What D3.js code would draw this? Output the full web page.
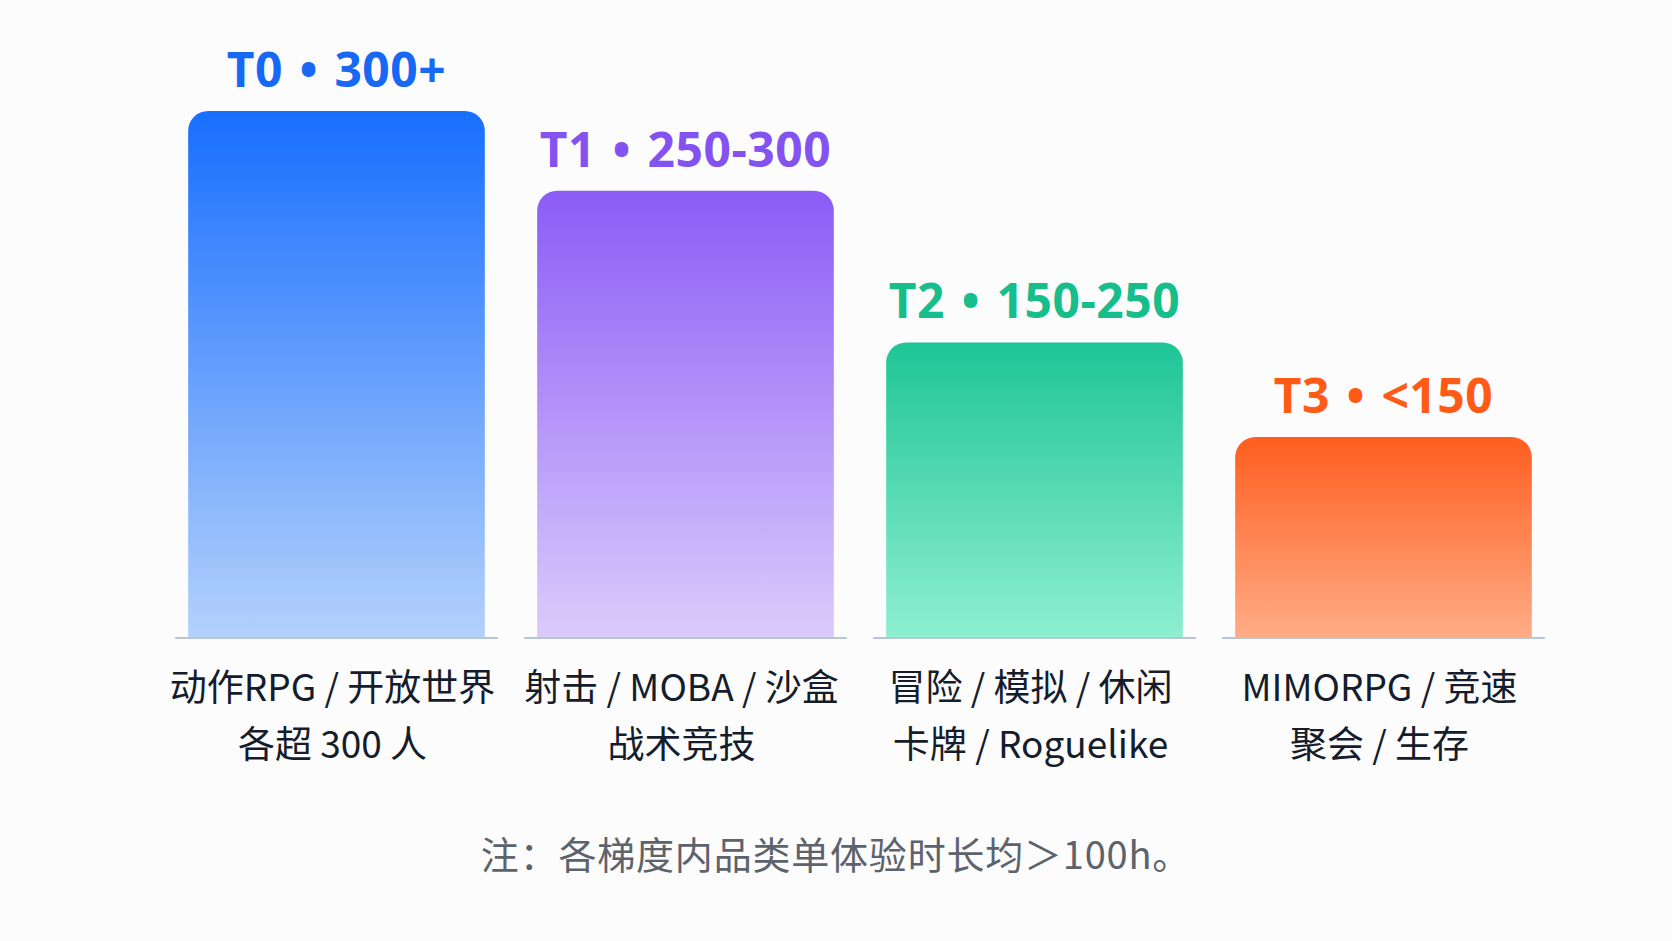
<!DOCTYPE html>
<html>
<head>
<meta charset="utf-8">
<script src="https://cdn.jsdelivr.net/npm/d3@7"></script>
<style>
  html, body { margin: 0; padding: 0; background: #fcfcfd; }
  svg { display: block; }
</style>
</head>
<body>
<div id="chart"></div>
<script>
// ---- data ----
const tiers = ["T0", "T1", "T2", "T3"];
const ranges = ["300+", "250-300", "150-250", "<150"];
const values = [350, 297, 196, 133];
const labelLine1 = ["动作RPG / 开放世界", "射击 / MOBA / 沙盒", "冒险 / 模拟 / 休闲", "MIMORPG / 竞速"];
const labelLine2 = ["各超 300 人", "战术竞技", "卡牌 / Roguelike", "聚会 / 生存"];
const note = "注：各梯度内品类单体验时长均＞100h。";

// ---- styles ----
const topColors = ["#176eff", "#8b5cf6", "#1ec596", "#ff5e1f"];
const bottomColors = ["#b4d1fb", "#dbcbfb", "#8eefcf", "#ffac86"];
const textColors = ["#1769f5", "#8552f2", "#17bd8a", "#ff5b17"];

const W = 1672, H = 941;
const svg = d3.select("#chart").append("svg").attr("width", W).attr("height", H);
svg.append("rect").attr("width", W).attr("height", H).attr("fill", "#fcfcfd");

const x = d3.scaleBand().domain(tiers).range([162, 1558]).paddingInner(0.15).paddingOuter(0.075);
const y = d3.scaleLinear().domain([0, 350]).range([637, 111]);

const defs = svg.append("defs");
tiers.forEach((t, i) => {
  const g = defs.append("linearGradient").attr("id", "g" + i)
    .attr("x1", 0).attr("y1", 0).attr("x2", 0).attr("y2", 1);
  g.append("stop").attr("offset", "0%").attr("stop-color", topColors[i]);
  g.append("stop").attr("offset", "100%").attr("stop-color", bottomColors[i]);
});

const r = 20;
function topRounded(x0, y0, w, h) {
  const p = d3.path();
  p.moveTo(x0, y0 + h);
  p.lineTo(x0, y0 + r);
  p.arcTo(x0, y0, x0 + r, y0, r);
  p.lineTo(x0 + w - r, y0);
  p.arcTo(x0 + w, y0, x0 + w, y0 + r, r);
  p.lineTo(x0 + w, y0 + h);
  p.closePath();
  return p.toString();
}

const bw = x.bandwidth();
const data = tiers.map((t, i) => ({ t, i, v: values[i] }));

svg.selectAll("path.bar").data(data).join("path")
  .attr("class", "bar")
  .attr("d", d => topRounded(x(d.t), y(d.v), bw, y(0) - y(d.v)))
  .attr("fill", d => `url(#g${d.i})`);

// baseline segments
svg.selectAll("line.base").data(data).join("line")
  .attr("class", "base")
  .attr("x1", d => x(d.t) - 13).attr("x2", d => x(d.t) + bw + 13)
  .attr("y1", y(0) + 1).attr("y2", y(0) + 1)
  .attr("stroke", "#b9c5d4").attr("stroke-width", 2);

// tier labels
svg.selectAll("text.tier").data(data).join("text")
  .attr("class", "tier")
  .attr("x", d => x(d.t) + bw / 2)
  .attr("y", d => y(d.v) - 24)
  .attr("text-anchor", "middle")
  .attr("font-family", "'Noto Sans', 'Open Sans', sans-serif")
  .attr("font-weight", 700)
  .attr("font-size", 48)
  .attr("letter-spacing", 0.5)
  .attr("fill", d => textColors[d.i])
  .text(d => `${d.t}\u2004•\u2004${ranges[d.i]}`);

// category labels
const lab = svg.selectAll("g.lab").data(data).join("g").attr("class", "lab");
lab.append("text")
  .attr("x", d => x(d.t) + bw / 2 - 4)
  .attr("y", 701)
  .attr("text-anchor", "middle")
  .attr("font-family", "'Noto Sans CJK SC', sans-serif")
  .attr("font-size", 37)
  .attr("fill", "#151d2c")
  .text(d => labelLine1[d.i]);
lab.append("text")
  .attr("x", d => x(d.t) + bw / 2 - 4)
  .attr("y", 758)
  .attr("text-anchor", "middle")
  .attr("font-family", "'Noto Sans CJK SC', sans-serif")
  .attr("font-size", 37)
  .attr("fill", "#151d2c")
  .text(d => labelLine2[d.i]);

// note
svg.append("text")
  .attr("x", 836).attr("y", 869)
  .attr("text-anchor", "middle")
  .attr("font-family", "'Noto Sans CJK SC', sans-serif")
  .attr("font-size", 38)
  .attr("letter-spacing", 0.8)
  .attr("fill", "#5d636c")
  .text(note);
</script>
</body>
</html>
